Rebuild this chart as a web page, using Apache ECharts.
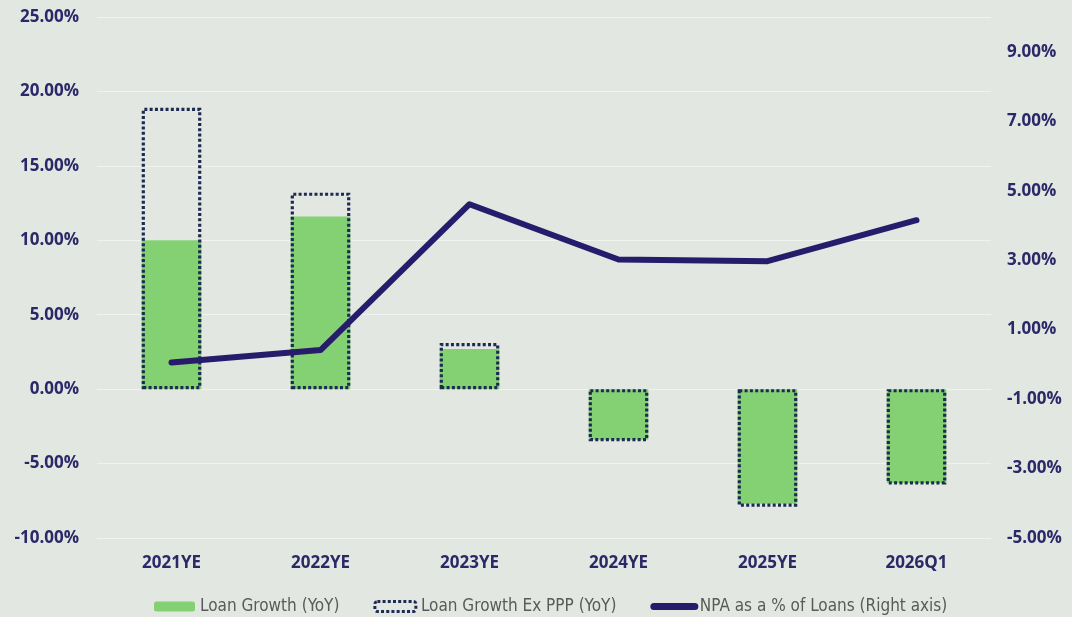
<!DOCTYPE html>
<html>
<head>
<meta charset="utf-8">
<script src="https://cdn.jsdelivr.net/npm/echarts@6/dist/echarts.min.js"></script>
<style>
  html, body { margin: 0; padding: 0; background: #e2e7e1; }
  #chart { width: 1072px; height: 617px; }
</style>
</head>
<body>
<div id="chart"></div>
<script>
// Periods on the category axis
const categories = ['2021YE', '2022YE', '2023YE', '2024YE', '2025YE', '2026Q1'];
// Year-over-year loan growth, percent (left axis)
const loanGrowth = [10.0, 11.6, 2.7, -3.4, -7.7, -6.3];
// Year-over-year loan growth excluding PPP loans, percent (left axis)
const loanGrowthExPPP = [18.9, 13.2, 3.1, -3.5, -7.9, -6.4];
// Non-performing assets as a share of loans, percent (right axis)
const npaRatio = [0.05, 0.41, 4.61, 3.02, 2.97, 4.15];

const seriesNames = ['Loan Growth (YoY)', 'Loan Growth Ex PPP (YoY)', 'NPA as a % of Loans (Right axis)'];

const labelColor = '#2b2868';
const greenFill = '#84d174';
const dotColor = '#1d2a52';
const lineColor = '#271c6b';
const fontFamily = '"Open Sans", "Noto Sans", sans-serif';
const legendFont = '"Liberation Sans Narrow", "DejaVu Sans Condensed", "Open Sans", sans-serif';
const pct = v => v.toFixed(2) + '%';

const chart = echarts.init(document.getElementById('chart'), null, { renderer: 'canvas' });

chart.setOption({
  backgroundColor: '#e2e7e1',
  animation: false,
  grid: { left: 97, right: 81, top: 17, bottom: 79, containLabel: false },
  legend: {
    bottom: -3,
    left: 149,
    itemGap: 34,
    itemWidth: 41,
    itemHeight: 10,
    textStyle: { color: '#5a5a5a', fontSize: 17, fontFamily: legendFont },
    data: [
      { name: seriesNames[0], itemStyle: { color: greenFill } },
      {
        name: seriesNames[1],
        itemStyle: {
          color: 'rgba(0,0,0,0)', borderColor: dotColor,
          borderWidth: 3, borderType: [3, 2.2]
        }
      },
      {
        name: seriesNames[2],
        itemStyle: { opacity: 0 },
        lineStyle: { color: lineColor, width: 7, cap: 'round' }
      }
    ]
  },
  xAxis: {
    type: 'category',
    data: categories,
    axisLine: { show: false, onZero: false },
    axisTick: { show: false },
    splitLine: { show: false },
    axisLabel: {
      color: labelColor, fontWeight: 'bold', fontSize: 17,
      fontFamily: fontFamily, margin: 17
    }
  },
  yAxis: [
    {
      type: 'value',
      min: -10, max: 25, interval: 5,
      axisLine: { show: false },
      axisTick: { show: false },
      splitLine: { show: true, lineStyle: { color: '#f1f3ef', width: 1.2 } },
      axisLabel: {
        color: labelColor, fontWeight: 'bold', fontSize: 17,
        fontFamily: fontFamily, margin: 18, formatter: pct
      }
    },
    {
      type: 'value',
      min: -5, max: 10, interval: 2,
      position: 'right',
      axisLine: { show: false },
      axisTick: { show: false },
      splitLine: { show: false },
      axisLabel: {
        color: labelColor, fontWeight: 'bold', fontSize: 17,
        fontFamily: fontFamily, margin: 16, showMaxLabel: false,
        formatter: v => (v > 9.5 ? '' : pct(v))
      }
    }
  ],
  series: [
    {
      name: seriesNames[0],
      type: 'bar',
      yAxisIndex: 0,
      data: loanGrowth,
      barWidth: '40%',
      itemStyle: { color: greenFill },
      z: 2
    },
    {
      name: seriesNames[1],
      type: 'bar',
      yAxisIndex: 0,
      data: loanGrowthExPPP,
      barWidth: '40%',
      barGap: '-100%',
      itemStyle: {
        color: 'rgba(0,0,0,0)',
        borderColor: dotColor,
        borderWidth: 3.2,
        borderType: [3, 2.3]
      },
      z: 3
    },
    {
      name: seriesNames[2],
      type: 'line',
      yAxisIndex: 1,
      data: npaRatio,
      symbol: 'none',
      lineStyle: { color: lineColor, width: 6, cap: 'round', join: 'round' },
      itemStyle: { color: lineColor },
      z: 5
    }
  ]
});
</script>
</body>
</html>
